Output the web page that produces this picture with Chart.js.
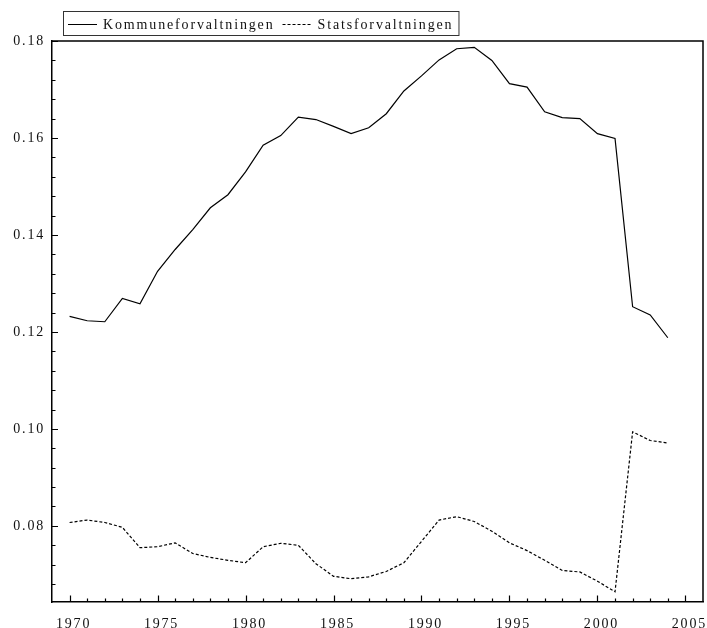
<!DOCTYPE html>
<html>
<head>
<meta charset="utf-8">
<script src="https://cdn.jsdelivr.net/npm/chart.js@4"></script>
<style>
  html, body { margin: 0; padding: 0; background: #fff; }
  #c { display: block; }
</style>
</head>
<body>
<canvas id="c" width="707" height="628"></canvas>
<script>
// Share of employment, 1970-2004
const years = [
  1970, 1971, 1972, 1973, 1974, 1975, 1976, 1977, 1978, 1979,
  1980, 1981, 1982, 1983, 1984, 1985, 1986, 1987, 1988, 1989,
  1990, 1991, 1992, 1993, 1994, 1995, 1996, 1997, 1998, 1999,
  2000, 2001, 2002, 2003, 2004
];
const kommune = [
  0.1232, 0.1223, 0.1221, 0.1269, 0.1258, 0.1325, 0.1370, 0.1411, 0.1456, 0.1483,
  0.1530, 0.1585, 0.1605, 0.1643, 0.1638, 0.1624, 0.1609, 0.1621, 0.1650, 0.1697,
  0.1728, 0.1761, 0.1784, 0.1787, 0.1760, 0.1712, 0.1705, 0.1654, 0.1642, 0.1640,
  0.1609, 0.1599, 0.1252, 0.1235, 0.1188
];
const stats = [
  0.0807, 0.0812, 0.0807, 0.0797, 0.0755, 0.0757, 0.0765, 0.0743, 0.0735, 0.0729,
  0.0724, 0.0757, 0.0764, 0.0760, 0.0722, 0.0696, 0.0691, 0.0695, 0.0706, 0.0724,
  0.0768, 0.0812, 0.0819, 0.0809, 0.0789, 0.0765, 0.0749, 0.0729, 0.0708, 0.0705,
  0.0686, 0.0664, 0.0994, 0.0976, 0.0971
];
const seriesLabels = ['Kommuneforvaltningen', 'Statsforvaltningen'];
const xTickYears = [1970, 1975, 1980, 1985, 1990, 1995, 2000, 2005];
const yTickValues = [0.08, 0.10, 0.12, 0.14, 0.16, 0.18];
const xRange = [1969, 2006];
const yRange = [0.0643, 0.18];
const yMinorStep = 0.004;

const FONT = '"Liberation Serif", "Times New Roman", serif';
const SPACING = '1.8px';
const LEGEND_SPACING = '1.85px';

const toPoints = (vals) => vals.map((v, i) => ({ x: years[i], y: v }));

// Keeps the spaced-out lettering on the canvas context
const spacingPlugin = {
  id: 'spacing',
  beforeLayout(chart) { chart.ctx.letterSpacing = SPACING; },
  beforeDraw(chart) { chart.ctx.letterSpacing = SPACING; }
};

// Frame, inward tick marks and the boxed legend
const framePlugin = {
  id: 'frame',
  afterDraw(chart) {
    const ctx = chart.ctx;
    const a = chart.chartArea;
    const xs = chart.scales.x, ys = chart.scales.y;
    ctx.save();
    ctx.strokeStyle = '#000';
    ctx.lineWidth = 1.5;
    ctx.beginPath();
    ctx.moveTo(a.left, a.top);
    ctx.lineTo(a.right, a.top);
    ctx.lineTo(a.right, a.bottom);
    ctx.stroke();

    ctx.lineWidth = 1.2;
    ctx.beginPath();
    for (let yr = xTickYears[0]; yr <= xTickYears[xTickYears.length - 1]; yr++) {
      const px = Math.round(xs.getPixelForValue(yr)) + 0.5;
      const len = xTickYears.includes(yr) ? 6.5 : 3.5;
      ctx.moveTo(px, a.bottom);
      ctx.lineTo(px, a.bottom - len);
    }
    const nMinor = Math.round((yRange[1] - 0.068) / yMinorStep);
    for (let k = 0; k <= nMinor; k++) {
      const v = 0.068 + k * yMinorStep;
      const py = Math.round(ys.getPixelForValue(v)) + 0.5;
      const major = yTickValues.some(t => Math.abs(t - v) < 1e-6);
      ctx.moveTo(a.left, py);
      ctx.lineTo(a.left + (major ? 6 : 3.5), py);
    }
    ctx.stroke();

    // legend
    ctx.font = '14px ' + FONT;
    ctx.letterSpacing = LEGEND_SPACING;
    ctx.textBaseline = 'middle';
    ctx.textAlign = 'left';
    const cy = 24;
    let x = 68;
    chart.data.datasets.forEach((ds) => {
      ctx.beginPath();
      ctx.strokeStyle = '#000';
      ctx.lineWidth = 1;
      ctx.setLineDash(ds.borderDash || []);
      ctx.moveTo(x, cy + 0.5);
      ctx.lineTo(x + 29, cy + 0.5);
      ctx.stroke();
      ctx.setLineDash([]);
      ctx.fillStyle = '#111';
      ctx.fillText(ds.label, x + 35, cy + 1);
      x = x + 35 + ctx.measureText(ds.label).width + 8;
    });
    ctx.strokeStyle = '#333';
    ctx.lineWidth = 1;
    ctx.strokeRect(63.5, 11.5, x - 63 - 3, 24);
    ctx.restore();
  }
};

new Chart(document.getElementById('c'), {
  type: 'line',
  data: {
    datasets: [
      {
        label: seriesLabels[0],
        data: toPoints(kommune),
        borderColor: '#000',
        borderWidth: 1.2,
        pointRadius: 0,
        tension: 0,
        fill: false
      },
      {
        label: seriesLabels[1],
        data: toPoints(stats),
        borderColor: '#000',
        borderWidth: 1.2,
        borderDash: [3, 2],
        pointRadius: 0,
        tension: 0,
        fill: false
      }
    ]
  },
  options: {
    responsive: false,
    animation: false,
    devicePixelRatio: 1,
    layout: { padding: { top: 41, right: 4, bottom: 0, left: 0 } },
    plugins: {
      legend: { display: false },
      tooltip: { enabled: false }
    },
    scales: {
      x: {
        type: 'linear',
        min: xRange[0],
        max: xRange[1],
        afterBuildTicks(scale) { scale.ticks = xTickYears.map(v => ({ value: v })); },
        afterFit(scale) {
          scale.height = 26;
          scale.paddingLeft = 0;
          scale.paddingRight = 0;
        },
        grid: { display: true, drawOnChartArea: false, drawTicks: false },
        border: { display: true, color: '#000', width: 1.5 },
        ticks: {
          color: '#111',
          font: { family: FONT, size: 14 },
          padding: 14,
          labelOffset: 4,
          maxRotation: 0,
          callback: (v) => String(v)
        }
      },
      y: {
        type: 'linear',
        min: yRange[0],
        max: yRange[1],
        afterBuildTicks(scale) { scale.ticks = yTickValues.map(v => ({ value: v })); },
        afterFit(scale) {
          scale.width = 52;
          scale.paddingTop = 0;
          scale.paddingBottom = 0;
        },
        grid: { display: true, drawOnChartArea: false, drawTicks: false },
        border: { display: true, color: '#000', width: 1.5 },
        ticks: {
          color: '#111',
          font: { family: FONT, size: 14 },
          padding: 7,
          callback: (v) => v.toFixed(2)
        }
      }
    }
  },
  plugins: [spacingPlugin, framePlugin]
});
</script>
</body>
</html>
